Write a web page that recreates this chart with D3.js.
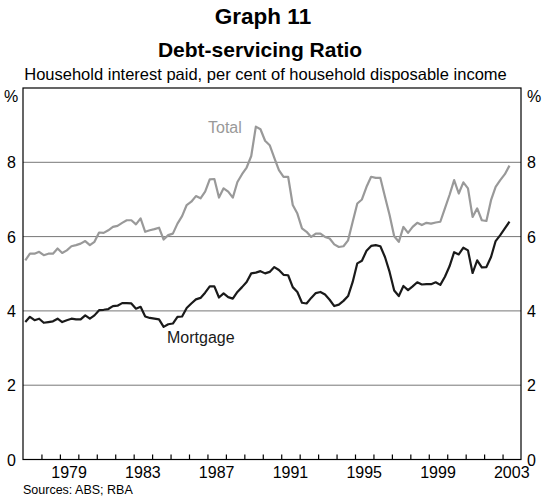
<!DOCTYPE html>
<html><head><meta charset="utf-8">
<script src="https://cdn.jsdelivr.net/npm/d3@7"></script>
<style>body{margin:0;background:#fff}svg{display:block;font-family:Arial,"Liberation Sans",sans-serif}</style>
</head><body><svg id="c" width="544" height="497"></svg>
<script>
const startYear = 1977; // first quarter 1977 Q1
const totalValues = [5.36,5.54,5.54,5.59,5.50,5.54,5.54,5.68,5.56,5.63,5.74,5.77,5.81,5.88,5.77,5.86,6.11,6.10,6.17,6.26,6.29,6.37,6.44,6.44,6.33,6.49,6.13,6.17,6.20,6.24,5.92,6.04,6.08,6.35,6.55,6.85,6.94,7.09,7.03,7.21,7.54,7.55,7.05,7.30,7.21,7.05,7.47,7.68,7.86,8.17,8.96,8.89,8.58,8.46,8.12,7.79,
7.61,7.61,6.85,6.62,6.22,6.13,5.99,6.08,6.08,5.99,5.95,5.79,5.72,5.74,5.90,6.40,6.89,7.00,7.34,7.61,7.58,7.58,7.07,6.58,6.01,5.86,6.26,6.10,6.26,6.37,6.31,6.37,6.35,6.38,6.40,6.76,7.12,7.52,7.16,7.46,7.30,6.53,6.76,6.44,6.42,6.98,7.34,7.52,7.68,7.91];
const mortgageValues = [3.70,3.84,3.75,3.79,3.68,3.70,3.72,3.79,3.70,3.75,3.79,3.77,3.77,3.88,3.79,3.88,4.02,4.03,4.05,4.13,4.14,4.21,4.21,4.20,4.06,4.11,3.85,3.81,3.79,3.77,3.57,3.64,3.66,3.84,3.85,4.08,4.20,4.31,4.35,4.49,4.66,4.66,4.36,4.47,4.37,4.33,4.51,4.64,4.78,5.01,5.03,5.07,5.01,5.05,5.18,5.10,
4.97,4.96,4.64,4.51,4.22,4.20,4.35,4.48,4.51,4.44,4.30,4.13,4.17,4.27,4.40,4.78,5.28,5.35,5.62,5.75,5.77,5.74,5.45,5.05,4.55,4.40,4.67,4.56,4.66,4.77,4.71,4.72,4.72,4.77,4.70,4.92,5.20,5.58,5.52,5.70,5.63,5.02,5.36,5.17,5.18,5.45,5.88,6.04,6.22,6.40];
const yTicks = [0,2,4,6,8];
const xLabelYears = [1979,1983,1987,1991,1995,1999,2003];
const titleText = "Graph 11";
const subtitleText = "Debt-servicing Ratio";
const unitText = "Household interest paid, per cent of household disposable income";
const sourceText = "Sources: ABS; RBA";

const svg = d3.select("#c");
const L = 23, R = 521, T = 88, B = 459.5;
const x = d3.scaleLinear().domain([1977, 2004]).range([L, R]);
const y = d3.scaleLinear().domain([0, 10]).range([B, T]);
const qx = i => x(startYear + (i + 0.5) / 4);

// titles
svg.append("text").attr("x", 263).attr("y", 24).attr("text-anchor", "middle")
  .attr("font-size", 22.5).attr("font-weight", "bold").text(titleText);
svg.append("text").attr("x", 260).attr("y", 57).attr("text-anchor", "middle")
  .attr("font-size", 21).attr("font-weight", "bold").text(subtitleText);
svg.append("text").attr("x", 265.5).attr("y", 80).attr("text-anchor", "middle")
  .attr("font-size", 16.5).text(unitText);

// gridlines
svg.append("g").selectAll("line").data(yTicks.filter(d => d > 0)).join("line")
  .attr("x1", L).attr("x2", R).attr("y1", d => y(d)).attr("y2", d => y(d))
  .attr("stroke", "#777777").attr("stroke-width", 1);

// frame
svg.append("rect").attr("x", L).attr("y", T).attr("width", R - L).attr("height", B - T)
  .attr("fill", "none").attr("stroke", "#000").attr("stroke-width", 1.2);

// y labels both sides
const yl = svg.append("g").attr("font-size", 16);
yTicks.forEach(v => {
  yl.append("text").attr("x", 16).attr("y", y(v) + 6).attr("text-anchor", "end").text(v);
  yl.append("text").attr("x", 527).attr("y", y(v) + 6).attr("text-anchor", "start").text(v);
});
yl.append("text").attr("x", 4).attr("y", 102).text("%");
yl.append("text").attr("x", 527).attr("y", 102).text("%");

// x axis ticks (inward) and labels
const xAxis = d3.axisBottom(x).tickValues(d3.range(1978, 2004)).tickSize(-5).tickFormat("");
const gx = svg.append("g").attr("transform", `translate(0,${B})`).call(xAxis);
gx.select(".domain").remove();
gx.selectAll(".tick line").attr("stroke", "#000").attr("stroke-width", 1.2);
svg.append("g").attr("font-size", 16).selectAll("text").data(xLabelYears).join("text")
  .attr("x", d => x(d + 0.5)).attr("y", 478).attr("text-anchor", "middle").text(d => d);

// lines
const line = d3.line().x((d, i) => qx(i)).y(d => y(d));
svg.append("path").datum(totalValues).attr("d", line).attr("fill", "none")
  .attr("stroke", "#999999").attr("stroke-width", 2.2).attr("stroke-linejoin", "round");
svg.append("path").datum(mortgageValues).attr("d", line).attr("fill", "none")
  .attr("stroke", "#1a1a1a").attr("stroke-width", 2.2).attr("stroke-linejoin", "round");

// series labels
svg.append("text").attr("x", 208).attr("y", 133).attr("font-size", 16).attr("fill", "#999999").text("Total");
svg.append("text").attr("x", 167).attr("y", 343).attr("font-size", 16).attr("fill", "#1a1a1a").text("Mortgage");

// source
svg.append("text").attr("x", 23).attr("y", 494).attr("font-size", 12.5).text(sourceText);
</script></body></html>
